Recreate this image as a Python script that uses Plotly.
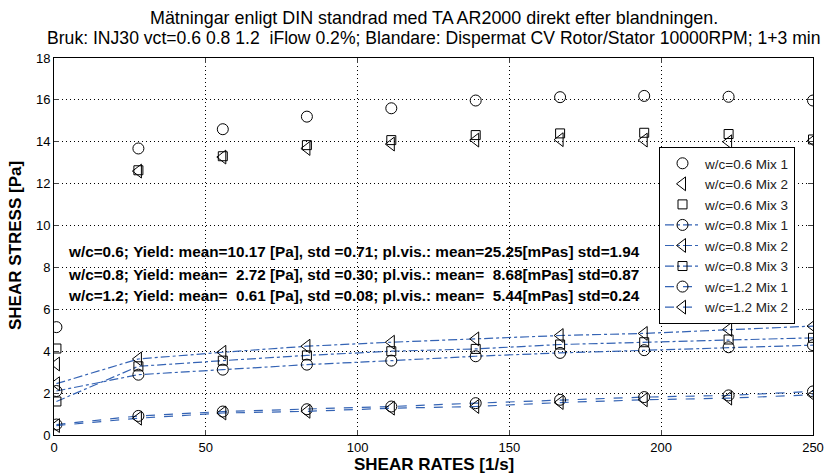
import plotly.graph_objects as go

# ---- data ----
shear_rate = [0.8, 27.8, 55.6, 83.3, 111.1, 138.9, 166.7, 194.4, 222.2, 250.0]

wc06_mix1 = [5.15, 13.68, 14.60, 15.20, 15.60, 15.97, 16.13, 16.19, 16.15, 15.97]
wc06_mix2 = [3.39, 12.60, 13.27, 13.68, 13.89, 14.08, 14.10, 14.08, 14.00, 14.05]
wc06_mix3 = [4.13, 12.64, 13.31, 13.84, 14.08, 14.32, 14.40, 14.43, 14.37, 14.11]

wc08_mix1 = [2.10, 2.88, 3.12, 3.36, 3.55, 3.76, 3.92, 4.05, 4.19, 4.29]
wc08_mix2 = [2.45, 3.63, 3.95, 4.24, 4.43, 4.59, 4.75, 4.85, 5.04, 5.20]
wc08_mix3 = [1.60, 3.28, 3.55, 3.80, 4.00, 4.11, 4.32, 4.43, 4.56, 4.64]

wc12_mix1 = [0.50, 0.91, 1.12, 1.23, 1.36, 1.52, 1.68, 1.81, 1.89, 2.08]
wc12_mix2 = [0.45, 0.80, 1.05, 1.13, 1.28, 1.36, 1.55, 1.68, 1.76, 1.92]

series_names = ["w/c=0.6 Mix 1", "w/c=0.6 Mix 2", "w/c=0.6 Mix 3",
                "w/c=0.8 Mix 1", "w/c=0.8 Mix 2", "w/c=0.8 Mix 3",
                "w/c=1.2 Mix 1", "w/c=1.2 Mix 2"]

stats_lines = [
    "w/c=0.6; Yield: mean=10.17 [Pa], std =0.71; pl.vis.: mean=25.25[mPas] std=1.94",
    "w/c=0.8; Yield: mean=  2.72 [Pa], std =0.30; pl.vis.: mean=  8.68[mPas] std=0.87",
    "w/c=1.2; Yield: mean=  0.61 [Pa], std =0.08; pl.vis.: mean=  5.44[mPas] std=0.24",
]
stats_y = [8.74, 7.68, 6.67]

title_lines = [
    "Mätningar enligt DIN standrad med TA AR2000 direkt efter blandningen.",
    "Bruk: INJ30 vct=0.6 0.8 1.2  iFlow 0.2%; Blandare: Dispermat CV Rotor/Stator 10000RPM; 1+3 min",
]
x_title = "SHEAR RATES [1/s]"
y_title = "SHEAR STRESS [Pa]"

x_ticks = [0, 50, 100, 150, 200, 250]
y_ticks = [0, 2, 4, 6, 8, 10, 12, 14, 16, 18]

# ---- styling ----
FONT = "Liberation Sans, Arial, sans-serif"
LINE_BLUE = "#3463b4"
symbols = {"1": "circle-open", "2": "triangle-left-open", "3": "square-open"}
sizes = {"1": 11, "2": 12, "3": 9}
PLOT_TOP, PLOT_BOTTOM, PLOT_LEFT, PLOT_W = 58, 435, 54, 759
PLOT_H = PLOT_BOTTOM - PLOT_TOP

fig = go.Figure()

all_series = [wc06_mix1, wc06_mix2, wc06_mix3, wc08_mix1, wc08_mix2, wc08_mix3,
              wc12_mix1, wc12_mix2]
for name, ys in zip(series_names, all_series):
    mix = name[-1]
    if "0.6" in name:
        mode, dash = "markers", None
    elif "0.8" in name:
        mode, dash = "lines+markers", "dashdot"
    else:
        mode, dash = "lines+markers", "dash"
    tr = dict(x=shear_rate, y=ys, name=name, mode=mode,
              marker=dict(symbol=symbols[mix], size=sizes[mix], color="black",
                          line=dict(width=1, color="black")))
    if dash:
        tr["line"] = dict(color=LINE_BLUE, width=1.2, dash=dash)
    fig.add_trace(go.Scatter(**tr))

annotations = []
for txt, yy in zip(stats_lines, stats_y):
    annotations.append(dict(x=3.9, y=yy, xref="x", yref="y", xanchor="left",
                            yanchor="middle", showarrow=False,
                            text="<b>" + txt.replace(" ", "\u00a0") + "</b>",
                            font=dict(family=FONT, size=15.3, color="black")))
for txt, py, sz in zip(title_lines, [18, 38], [17.9, 17.6]):
    annotations.append(dict(x=0.5, y=(PLOT_BOTTOM - py) / PLOT_H, xref="paper", yref="paper",
                            xanchor="center", yanchor="middle", showarrow=False,
                            text=txt.replace("  ", "\u00a0\u00a0"),
                            font=dict(family=FONT, size=sz, color="black")))
# axis titles
annotations.append(dict(x=0.5, y=(PLOT_BOTTOM - 465) / PLOT_H, xref="paper", yref="paper",
                        xanchor="center", yanchor="middle", showarrow=False,
                        text="<b>" + x_title + "</b>",
                        font=dict(family=FONT, size=17, color="black")))
annotations.append(dict(x=(15 - PLOT_LEFT) / PLOT_W, y=(PLOT_BOTTOM - 246) / PLOT_H,
                        xref="paper", yref="paper", textangle=-90,
                        xanchor="center", yanchor="middle", showarrow=False,
                        text="<b>" + y_title + "</b>",
                        font=dict(family=FONT, size=17, color="black")))

fig.update_layout(
    width=827, height=475,
    margin=dict(l=PLOT_LEFT, r=827 - PLOT_LEFT - PLOT_W, t=PLOT_TOP, b=475 - PLOT_BOTTOM),
    paper_bgcolor="white", plot_bgcolor="white",
    font=dict(family=FONT, size=13, color="black"),
    showlegend=True,
    legend=dict(x=(659 - PLOT_LEFT) / PLOT_W, y=(PLOT_BOTTOM - 147) / PLOT_H,
                xanchor="left", yanchor="top",
                bgcolor="white", bordercolor="black", borderwidth=1,
                font=dict(family=FONT, size=13.5, color="#222"),
                itemwidth=35, tracegroupgap=0),
    annotations=annotations,
    xaxis=dict(range=[0, 250], tickvals=x_ticks, ticks="inside", ticklen=5,
               showline=True, linecolor="black", linewidth=1, mirror="ticks",
               showgrid=True, gridcolor="black", griddash="1px,3px", gridwidth=1,
               zeroline=False, tickfont=dict(size=13), automargin=False),
    yaxis=dict(range=[0, 18], tickvals=y_ticks, ticks="inside", ticklen=5,
               showline=True, linecolor="black", linewidth=1, mirror="ticks",
               showgrid=True, gridcolor="black", griddash="1px,3px", gridwidth=1,
               zeroline=False, tickfont=dict(size=13), automargin=False),
)

fig.write_html("out.html")
